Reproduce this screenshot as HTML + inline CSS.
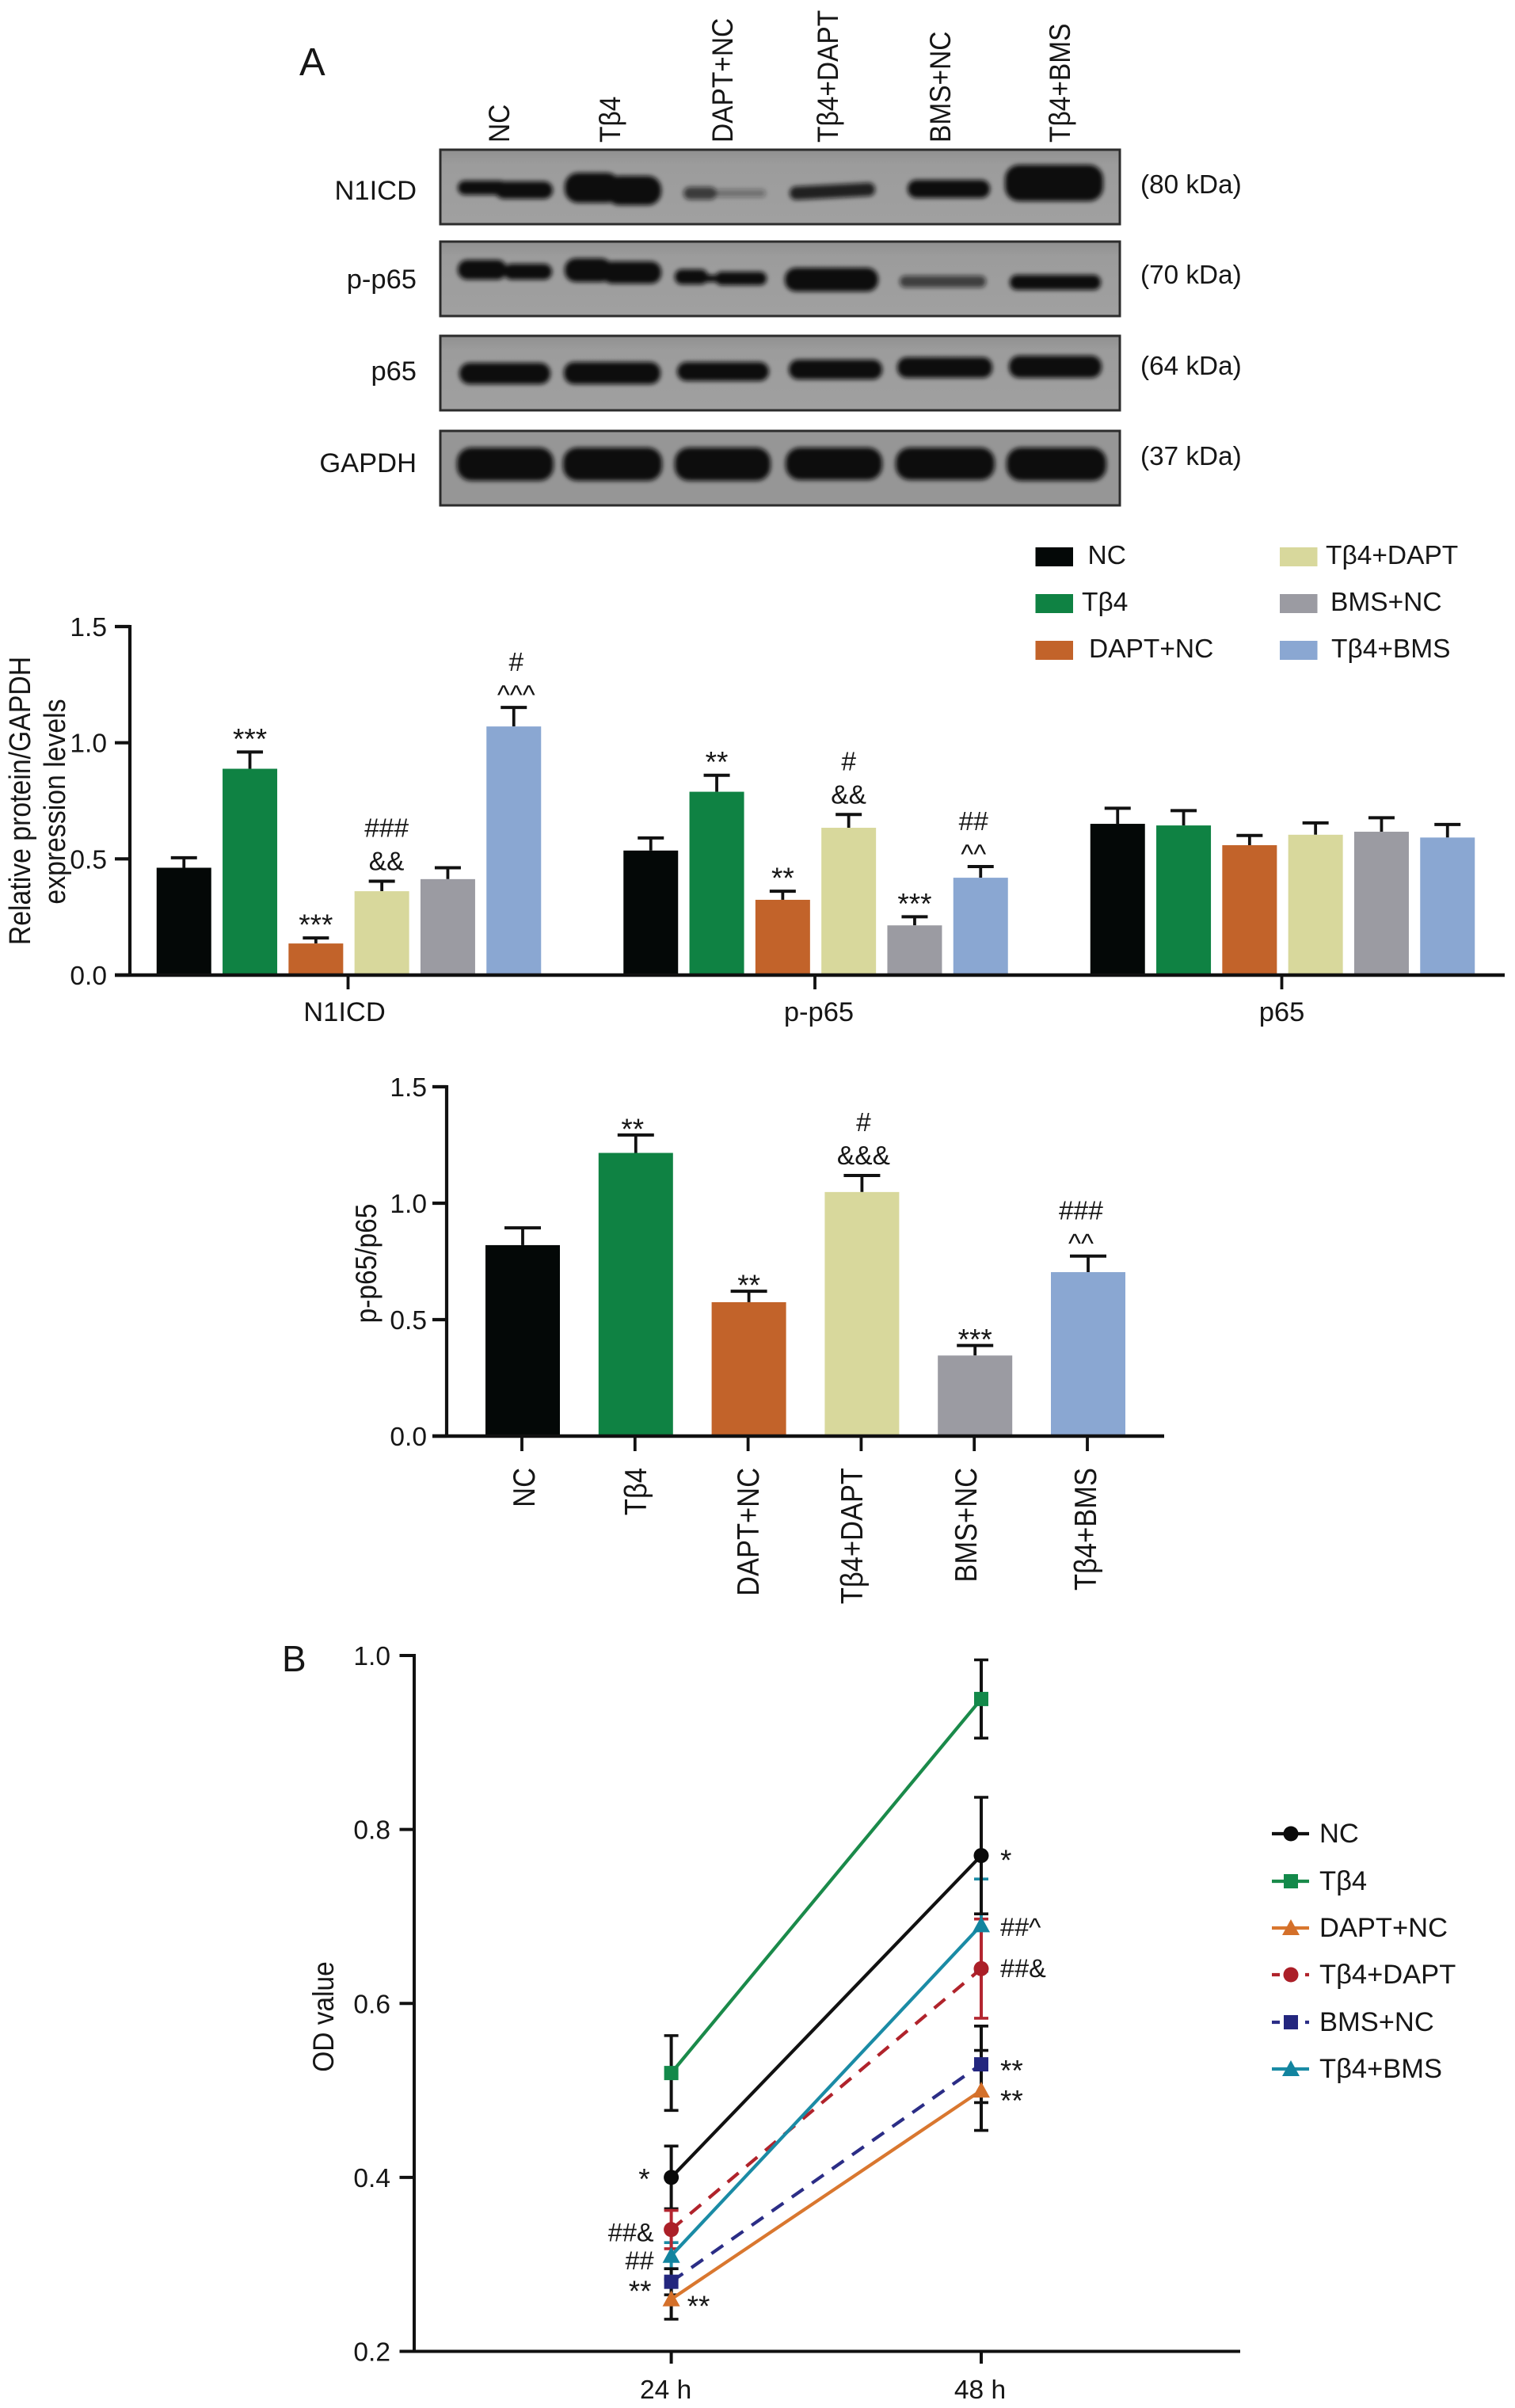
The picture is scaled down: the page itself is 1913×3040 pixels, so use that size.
<!DOCTYPE html>
<html lang="en">
<head>
<meta charset="utf-8">
<title>Tβ4 Notch1 and NF-κB figure</title>
<style>
html,body{margin:0;padding:0;background:#fff;}
svg{display:block;position:absolute;left:0;top:0;}
text{font-family:"Liberation Sans",Arial,sans-serif;fill:#161616;}
</style>
</head>
<body>
<svg id="figure" xmlns="http://www.w3.org/2000/svg" width="1913" height="3040" viewBox="0 0 1913 3040">
  <defs>
    <filter id="bandBlur" x="-20%" y="-60%" width="140%" height="220%"><feGaussianBlur stdDeviation="3"/></filter>
    <linearGradient id="blotBg" x1="0" y1="0" x2="0" y2="1">
      <stop offset="0" stop-color="#909090"/><stop offset="0.2" stop-color="#9c9c9c"/><stop offset="1" stop-color="#a0a0a0"/>
    </linearGradient>
  </defs>
  <rect x="0" y="0" width="1913" height="3040" fill="#fff"/>

  <g id="panel-a-blots">
    <text x="378" y="95" font-size="49">A</text>

    <g font-size="33.5">
      <text transform="translate(643 180) rotate(-90) scale(1 1.12)">NC</text>
      <text transform="translate(783 180) rotate(-90) scale(1 1.12)">Tβ4</text>
      <text transform="translate(925 180) rotate(-90) scale(1 1.12)">DAPT+NC</text>
      <text transform="translate(1058 180) rotate(-90) scale(1 1.12)">Tβ4+DAPT</text>
      <text transform="translate(1200 180) rotate(-90) scale(1 1.12)">BMS+NC</text>
      <text transform="translate(1351 180) rotate(-90) scale(1 1.12)">Tβ4+BMS</text>
    </g>

    <g>
      <rect x="556" y="189" width="858" height="94" fill="url(#blotBg)" stroke="#2c2c2c" stroke-width="3"/>
      <g filter="url(#bandBlur)" fill="#111">
        <rect x="578" y="228" width="62" height="18" rx="9"/>
        <rect x="625" y="229" width="73" height="22" rx="11"/>
        <rect x="713" y="218" width="70" height="38" rx="17"/>
        <rect x="765" y="222" width="70" height="37" rx="17"/>
        <rect x="863" y="236" width="42" height="16" rx="8" opacity="0.7"/>
        <rect x="903" y="239" width="64" height="10" rx="5" opacity="0.35"/>
        <rect x="997" y="233" width="108" height="17" rx="8" opacity="0.88" transform="rotate(-3 1051 241)"/>
        <rect x="1146" y="227" width="104" height="23" rx="11"/>
        <rect x="1269" y="208" width="124" height="46" rx="18"/>
      </g>
      <text x="526" y="252" font-size="34.5" text-anchor="end">N1ICD</text>
      <text x="1440" y="244" font-size="33.3">(80 kDa)</text>
    </g>

    <g>
      <rect x="556" y="305" width="858" height="94" fill="url(#blotBg)" stroke="#2c2c2c" stroke-width="3"/>
      <g filter="url(#bandBlur)" fill="#111">
        <rect x="578" y="328" width="62" height="25" rx="12"/>
        <rect x="636" y="333" width="61" height="20" rx="10"/>
        <rect x="713" y="326" width="60" height="30" rx="14"/>
        <rect x="760" y="330" width="75" height="28" rx="13"/>
        <rect x="852" y="340" width="42" height="19" rx="9"/>
        <rect x="885" y="347" width="20" height="9" rx="4"/>
        <rect x="903" y="343" width="65" height="17" rx="8"/>
        <rect x="991" y="338" width="118" height="30" rx="14"/>
        <rect x="1136" y="348" width="109" height="15" rx="7" opacity="0.68"/>
        <rect x="1275" y="347" width="115" height="19" rx="9"/>
      </g>
      <text x="526" y="364" font-size="34.5" text-anchor="end">p-p65</text>
      <text x="1440" y="358" font-size="33.3">(70 kDa)</text>
    </g>

    <g>
      <rect x="556" y="424" width="858" height="94" fill="url(#blotBg)" stroke="#2c2c2c" stroke-width="3"/>
      <g filter="url(#bandBlur)" fill="#111">
        <rect x="580" y="458" width="115" height="27" rx="13"/>
        <rect x="712" y="457" width="122" height="28" rx="13"/>
        <rect x="855" y="457" width="116" height="24" rx="12"/>
        <rect x="996" y="454" width="118" height="25" rx="12"/>
        <rect x="1133" y="451" width="120" height="26" rx="12"/>
        <rect x="1274" y="449" width="117" height="28" rx="13"/>
      </g>
      <text x="526" y="480" font-size="34.5" text-anchor="end">p65</text>
      <text x="1440" y="473" font-size="33.3">(64 kDa)</text>
    </g>

    <g>
      <rect x="556" y="544" width="858" height="94" fill="#969696" stroke="#2c2c2c" stroke-width="3"/>
      <g filter="url(#bandBlur)" fill="#111">
        <rect x="577" y="565" width="122" height="42" rx="18"/>
        <rect x="711" y="565" width="125" height="42" rx="18"/>
        <rect x="852" y="565" width="121" height="42" rx="18"/>
        <rect x="992" y="565" width="122" height="41" rx="18"/>
        <rect x="1131" y="565" width="125" height="41" rx="18"/>
        <rect x="1271" y="565" width="126" height="42" rx="18"/>
      </g>
      <text x="526" y="596" font-size="34.5" text-anchor="end">GAPDH</text>
      <text x="1440" y="587" font-size="33.3">(37 kDa)</text>
    </g>
  </g>

  <g id="bar-chart-proteins"></g>
  <g id="bar-chart-ratio"></g>
  <g id="line-chart-od"></g>
</svg>

<script>
// ---- shared categories ----
const treatmentNames = ['NC', 'Tβ4', 'DAPT+NC', 'Tβ4+DAPT', 'BMS+NC', 'Tβ4+BMS'];
const barColors = ['#040807', '#0f8243', '#c2632a', '#d8d89c', '#9b9ba2', '#8aa7d2'];

// ---- chart 1: relative protein expression ----
const proteinCategories = ['N1ICD', 'p-p65', 'p65'];
const proteinTicks = [0, 0.5, 1, 1.5];
const proteinTickLabels = ['0.0', '0.5', '1.0', '1.5'];
const n1icdValues = [0.462, 0.888, 0.136, 0.361, 0.413, 1.07];
const n1icdErrors = [0.043, 0.072, 0.024, 0.043, 0.049, 0.082];
const pp65Values = [0.536, 0.789, 0.324, 0.634, 0.214, 0.419];
const pp65Errors = [0.054, 0.071, 0.037, 0.057, 0.037, 0.048];
const p65Values = [0.651, 0.644, 0.559, 0.604, 0.617, 0.592];
const p65Errors = [0.067, 0.064, 0.042, 0.051, 0.06, 0.056];
const n1icdMarks = [[], ['***'], ['***'], ['&&', '###'], [], ['^^^', '#']];
const pp65Marks = [[], ['**'], ['**'], ['&&', '#'], ['***'], ['^^', '##']];
const p65Marks = [[], [], [], [], [], []];

// ---- chart 2: p-p65/p65 ratio ----
const ratioTicks = [0, 0.5, 1, 1.5];
const ratioTickLabels = ['0.0', '0.5', '1.0', '1.5'];
const ratioValues = [0.82, 1.216, 0.575, 1.048, 0.346, 0.704];
const ratioErrors = [0.074, 0.077, 0.047, 0.071, 0.043, 0.069];
const ratioMarks = [[], ['**'], ['**'], ['&&&', '#'], ['***'], ['^^', '###']];

// ---- chart 3: OD value over time ----
const timeLabels = ['24 h', '48 h'];
const odTicks = [0.2, 0.4, 0.6, 0.8, 1.0];
const odTickLabels = ['0.2', '0.4', '0.6', '0.8', '1.0'];
const odNC = [0.4, 0.77];
const odTb4 = [0.52, 0.95];
const odDaptNC = [0.26, 0.5];
const odTb4Dapt = [0.34, 0.64];
const odBmsNC = [0.28, 0.53];
const odTb4Bms = [0.31, 0.69];
const errNC = [0.036, 0.067];
const errTb4 = [0.043, 0.045];
const errDaptNC = [0.023, 0.046];
const errTb4Dapt = [0.022, 0.057];
const errBmsNC = [0.015, 0.044];
const errTb4Bms = [0.015, 0.053];
const odMarks24 = ['*', '', '**', '##&', '**', '##'];
const odMarks48 = ['*', '', '**', '##&', '**', '##^'];

const SVGNS = 'http://www.w3.org/2000/svg';

function mk(parent, tag, attrs) {
  const el = document.createElementNS(SVGNS, tag);
  for (const k in attrs) el.setAttribute(k, attrs[k]);
  parent.appendChild(el);
  return el;
}
function addText(parent, str, x, y, size, anchor, rotated) {
  const el = mk(parent, 'text', { 'font-size': size, 'text-anchor': anchor || 'start' });
  el.setAttribute('transform', rotated ? 'translate(' + x + ' ' + y + ') rotate(-90) scale(1 1.12)' : 'translate(' + x + ' ' + y + ')');
  el.textContent = str;
  return el;
}
function markStyle(line) {
  const c = line[0];
  if (c === '*') return { size: 37, drop: 21 };
  if (c === '^') return { size: 34, drop: 18 };
  return { size: 33.5, drop: 12 };
}

// Draws one vertical bar with error whisker and significance marks.
function drawBar(parent, cx, width, capW, value, err, color, yScale, marks, starLift, nudge, name) {
  const top = yScale(value), base = yScale(0), capY = yScale(value + err);
  const stem = mk(parent, 'line', { x1: cx, x2: cx, y1: top, y2: capY, stroke: '#111', 'stroke-width': 3.8 });
  
  
  const cap = mk(parent, 'line', { x1: cx - capW / 2, x2: cx + capW / 2, y1: capY, y2: capY, stroke: '#111', 'stroke-width': 4 });
  
  
  const bar = mk(parent, 'rect', { x: cx - width / 2, y: top, width: width, height: base - top, fill: color });
  
  
  let centre = capY;
  marks.forEach(function (line, i) {
    const st = markStyle(line);
    if (i === 0) {
      centre -= line[0] === '*' ? starLift : (line[0] === '^' ? 22 : 26);
    } else {
      centre -= marks[i - 1][0] === '^' ? 36 : 42;
    }
    const t = addText(parent, line, cx + nudge, centre + st.drop, st.size, 'middle');
    
    
  });
}

// ---------- chart 1 ----------
(function () {
  const g = document.getElementById('bar-chart-proteins');
  const axisX = 164, y0 = 1231, yTop = 791, vMax = 1.5, axisEnd = 1900;
  const y = function (v) { return y0 - (v / vMax) * (y0 - yTop); };
  const groupCentre = function (i) { return 440.5 + 589.5 * i; };
  const barX = function (i, j) { return groupCentre(i) + (j - 2.5) * 83.3; };
  const valueSets = [n1icdValues, pp65Values, p65Values];
  const errorSets = [n1icdErrors, pp65Errors, p65Errors];
  const markSets = [n1icdMarks, pp65Marks, p65Marks];
  const labelShift = [-4.5, 5, 0];
  const markNudge = function (i, j) {
    if (i === 0 && j === 3) return 6;
    if (i === 0 && j === 5) return 3;
    if (i === 1 && j === 5) return -9;
    return 0;
  };

  proteinCategories.forEach(function (cat, i) {
    treatmentNames.forEach(function (tr, j) {
      drawBar(g, barX(i, j), 69, 33, valueSets[i][j], errorSets[i][j], barColors[j], y, markSets[i][j], 25, markNudge(i, j), cat + '-' + tr);
    });
  });

  const yAxis = mk(g, 'line', { x1: axisX, x2: axisX, y1: yTop - 2, y2: y0 + 2, stroke: '#111', 'stroke-width': 4.2 });
  
  
  const xAxis = mk(g, 'line', { x1: 145, x2: axisEnd, y1: y0, y2: y0, stroke: '#111', 'stroke-width': 4.4 });
  
  

  proteinTicks.forEach(function (v, i) {
    const tick = mk(g, 'line', { x1: 145, x2: axisX, y1: y(v), y2: y(v), stroke: '#111', 'stroke-width': 4.2 });
    
    
    const lab = addText(g, proteinTickLabels[i], 135, y(v) + 12, 33.5, 'end');
    
    
  });
  proteinCategories.forEach(function (cat, i) {
    const cx = groupCentre(i) - 1;
    const tick = mk(g, 'line', { x1: cx, x2: cx, y1: y0, y2: 1249, stroke: '#111', 'stroke-width': 3.8 });
    
    
    const lab = addText(g, cat, cx + labelShift[i], 1289, 34.5, 'middle');
    
    
  });

  const title1 = addText(g, 'Relative protein/GAPDH', 38, 1011, 33.8, 'middle', true);
  
  
  const title2 = addText(g, 'expression levels', 82, 1012, 33.8, 'middle', true);
  
  

  treatmentNames.forEach(function (tr, j) {
    const col = j < 3 ? 0 : 1;
    const row = j % 3;
    const swX = col === 0 ? 1307.5 : 1616;
    const swY = 691 + row * 59;
    const sw = mk(g, 'rect', { x: swX, y: swY, width: 47.5, height: 24, fill: barColors[j] });
    
    
    const textLeft = [1373.5, 1366, 1375, 1674, 1680, 1681][j];
    const lab = addText(g, tr, textLeft, swY + 21, 33.5, 'start');
    
    
  });
})();

// ---------- chart 2 ----------
(function () {
  const g = document.getElementById('bar-chart-ratio');
  const axisX = 564, y0 = 1813, yTop = 1372, vMax = 1.5;
  const y = function (v) { return y0 - (v / vMax) * (y0 - yTop); };
  const x = function (j) { return 660 + j * 142.8; };
  const labelShift = [2, 0, -0.5, -12.5, -11, -3];
  const markNudge = [0, -4, 0, 2, 0, -9];

  treatmentNames.forEach(function (tr, j) {
    drawBar(g, x(j), 94, 46, ratioValues[j], ratioErrors[j], barColors[j], y, ratioMarks[j], 16, markNudge[j], 'ratio-' + tr);
  });

  const yAxis = mk(g, 'line', { x1: axisX, x2: axisX, y1: yTop - 2, y2: y0 + 2, stroke: '#111', 'stroke-width': 4.2 });
  
  
  const xAxis = mk(g, 'line', { x1: 546, x2: 1470, y1: y0, y2: y0, stroke: '#111', 'stroke-width': 4.4 });
  
  

  ratioTicks.forEach(function (v, i) {
    const tick = mk(g, 'line', { x1: 546, x2: axisX, y1: y(v), y2: y(v), stroke: '#111', 'stroke-width': 4.2 });
    
    
    const lab = addText(g, ratioTickLabels[i], 539, y(v) + 12, 33.5, 'end');
    
    
  });
  treatmentNames.forEach(function (tr, j) {
    const tick = mk(g, 'line', { x1: x(j) - 1, x2: x(j) - 1, y1: y0, y2: 1832, stroke: '#111', 'stroke-width': 3.8 });
    
    
    const lab = addText(g, tr, x(j) + labelShift[j] + 13, 1853, 34.5, 'end', true);
    
    
  });

  const title = addText(g, 'p-p65/p65', 475, 1595, 33.5, 'middle', true);
  
  
})();

// ---------- chart 3 ----------
(function () {
  const g = document.getElementById('line-chart-od');
  const axisX = 523, y0 = 2968.5, yTop = 2090;
  const y = function (v) { return y0 - ((v - 0.2) / 0.8) * (y0 - yTop); };
  const x = function (t) { return 847.6 + t * 391.4; };

  const seriesValues = [odNC, odTb4, odDaptNC, odTb4Dapt, odBmsNC, odTb4Bms];
  const seriesErrors = [errNC, errTb4, errDaptNC, errTb4Dapt, errBmsNC, errTb4Bms];
  const lineColors = ['#111111', '#1a8a4a', '#d9772f', '#b0232b', '#2b2d86', '#1a8ba5'];
  const markerColors = ['#0a0a0a', '#13894a', '#d4702a', '#ab1f28', '#23267e', '#12849f'];
  const errorColors = ['#111111', '#111111', '#111111', '#b32630', '#111111', '#1a8ba5'];
  const markerShape = ['circle', 'square', 'triangle', 'circle', 'square', 'triangle'];
  const dashed = [false, false, false, true, true, false];
  const errorOrder = [5, 1, 0, 2, 4, 3];
  const lineOrder = [1, 0, 3, 5, 4, 2];
  const markerOrder = [1, 0, 5, 3, 4, 2];

  function drawMarker(parent, shape, cx, cy, color) {
    if (shape === 'circle') return mk(parent, 'circle', { cx: cx, cy: cy, r: 9.5, fill: color });
    if (shape === 'square') return mk(parent, 'rect', { x: cx - 9, y: cy - 9, width: 18, height: 18, fill: color });
    return mk(parent, 'polygon', { points: (cx - 11) + ',' + (cy + 9) + ' ' + (cx + 11) + ',' + (cy + 9) + ' ' + cx + ',' + (cy - 11), fill: color });
  }

  errorOrder.forEach(function (s) {
    timeLabels.forEach(function (t, ti) {
      const v = seriesValues[s][ti], e = seriesErrors[s][ti];
      const stem = mk(g, 'line', { x1: x(ti), x2: x(ti), y1: y(v + e), y2: y(v - e), stroke: errorColors[s], 'stroke-width': 4 });
      
      
      const capTop = mk(g, 'line', { x1: x(ti) - 9, x2: x(ti) + 9, y1: y(v + e), y2: y(v + e), stroke: errorColors[s], 'stroke-width': 3.6 });
      
      
      const capBottom = mk(g, 'line', { x1: x(ti) - 9, x2: x(ti) + 9, y1: y(v - e), y2: y(v - e), stroke: errorColors[s], 'stroke-width': 3.6 });
      
      
    });
  });

  lineOrder.forEach(function (s) {
    const attrs = { x1: x(0), y1: y(seriesValues[s][0]), x2: x(1), y2: y(seriesValues[s][1]), stroke: lineColors[s], 'stroke-width': 4.2 };
    if (dashed[s]) attrs['stroke-dasharray'] = '18 13';
    const ln = mk(g, 'line', attrs);
    
    
  });

  markerOrder.forEach(function (s) {
    timeLabels.forEach(function (t, ti) {
      const m = drawMarker(g, markerShape[s], x(ti), y(seriesValues[s][ti]), markerColors[s]);
      
      
    });
  });

  const yAxis = mk(g, 'line', { x1: axisX, x2: axisX, y1: yTop - 2, y2: y0 + 2, stroke: '#111', 'stroke-width': 4 });
  
  
  const xAxis = mk(g, 'line', { x1: 504.5, x2: 1566, y1: y0, y2: y0, stroke: '#111', 'stroke-width': 4 });
  
  

  odTicks.forEach(function (v, i) {
    const tick = mk(g, 'line', { x1: 504.5, x2: axisX, y1: y(v), y2: y(v), stroke: '#111', 'stroke-width': 4 });
    
    
    const lab = addText(g, odTickLabels[i], 493, y(v) + 12, 33.5, 'end');
    
    
  });
  timeLabels.forEach(function (t, ti) {
    const tick = mk(g, 'line', { x1: x(ti), x2: x(ti), y1: y0, y2: 2984, stroke: '#111', 'stroke-width': 4 });
    
    
    const lab = addText(g, t, x(ti) - (ti === 0 ? 7 : 1.5), 3028, 33.5, 'middle');
    
    
  });

  const title = addText(g, 'OD value', 421, 2546, 33.5, 'middle', true);
  
  

  const lab = addText(g, 'B', 356, 2110, 46, 'start');
  
  

  function placeMark(str, px, py, anchor) {
    const st = markStyle(str);
    const size = str[0] === '*' ? 37 : 32.5;
    return addText(g, str, px, py - 3.5 + st.drop, size, anchor);
  }
  const shift24 = [-3, 0, 4, 6, 7, 9];
  const shift48 = [1, 0, 8, 2, 3, 5];
  const left24 = [-27, 0, 20, -22, -25, -22];
  seriesValues.forEach(function (vals, s) {
    if (odMarks24[s]) {
      const a = placeMark(odMarks24[s], x(0) + left24[s], y(vals[0]) + shift24[s], s === 2 ? 'start' : 'end');
      
      
    }
    if (odMarks48[s]) {
      const b = placeMark(odMarks48[s], x(1) + 24, y(vals[1]) + shift48[s], 'start');
      
      
    }
  });

  // legend
  const legendY = [2315, 2375, 2434, 2493, 2553, 2612];
  treatmentNames.forEach(function (tr, s) {
    if (dashed[s]) {
      const d1 = mk(g, 'line', { x1: 1606, x2: 1616, y1: legendY[s], y2: legendY[s], stroke: lineColors[s], 'stroke-width': 4.2 });
      
      
      const d2 = mk(g, 'line', { x1: 1648, x2: 1653, y1: legendY[s], y2: legendY[s], stroke: lineColors[s], 'stroke-width': 4.2 });
      
      
    } else {
      const d3 = mk(g, 'line', { x1: 1606, x2: 1653, y1: legendY[s], y2: legendY[s], stroke: lineColors[s], 'stroke-width': 4.2 });
      
      
    }
    const m = drawMarker(g, markerShape[s], 1630, legendY[s], markerColors[s]);
    
    
    const t = addText(g, tr, 1666, legendY[s] + 11, 34.5, 'start');
    
    
  });
})();
</script>
</body>
</html>
